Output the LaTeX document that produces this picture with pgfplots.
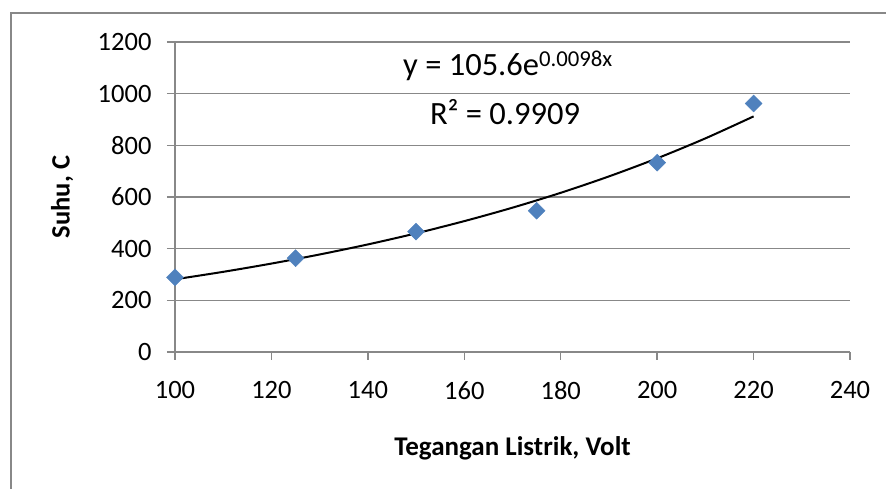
\documentclass[border=0pt]{standalone}
\usepackage{pgfplots}
\pgfplotsset{compat=1.18}
\usepackage{fontspec}
\setmainfont{Carlito}
\definecolor{gridgray}{HTML}{888888}
\definecolor{markblue}{HTML}{4F81BD}
\begin{document}
\begin{tikzpicture}
\useasboundingbox (0,0) rectangle (886pt,489pt);
\draw[gridgray, line width=1.5pt] (11pt,0pt) -- (11pt,476pt) -- (886pt,476pt);
\begin{axis}[
  at={(175pt,137pt)}, anchor=south west,
  scale only axis, width=675pt, height=310pt,
  xmin=100, xmax=240, ymin=0, ymax=1200,
  xtick={100,120,...,240}, ytick={0,200,...,1200},
  axis x line*=bottom, axis y line*=left,
  axis line style={gridgray, line width=1.5pt},
  ymajorgrids, grid style={gridgray, line width=1.5pt},
  tick align=outside, major tick length=8pt,
  tick style={gridgray, line width=1.5pt},
  /pgf/number format/assume math mode=true,
  /pgf/number format/1000 sep={},
  ticklabel style={font=\fontsize{26.5}{30}\selectfont},
  yticklabel style={xshift=-12pt},
  xticklabel style={yshift=-18pt},
  xlabel={\textbf{Tegangan Listrik, Volt}},
  ylabel={\textbf{Suhu, C}},
  xlabel style={font=\fontsize{27}{30}\selectfont, at={(axis description cs:0.5,0)}, anchor=center, yshift=-96pt},
  ylabel style={font=\fontsize{26.5}{30}\selectfont, at={(axis description cs:0,0.5)}, anchor=center, yshift=113pt},
  clip=false,
]
\addplot[black, line width=2pt, smooth] coordinates {
(100,281.4) (110,310.3) (120,342.3) (130,377.5) (140,416.4) (150,459.3)
(160,506.6) (170,558.7) (180,616.2) (190,679.7) (200,749.7) (210,826.9) (220,912.0)
};
\addplot[only marks, mark=square*, mark size=6pt, mark options={rotate=45, fill=markblue, draw=markblue}] coordinates {
(100,289) (125,363) (150,466) (175,547) (200,733) (220,962)
};
\end{axis}
\node[font=\fontsize{32.5}{36}\selectfont] at (508pt,423pt) {y = 105.6e\textsuperscript{0.0098x}};
\node[font=\fontsize{32.5}{36}\selectfont] at (505pt,377pt) {R² = 0.9909};
\end{tikzpicture}
\end{document}
